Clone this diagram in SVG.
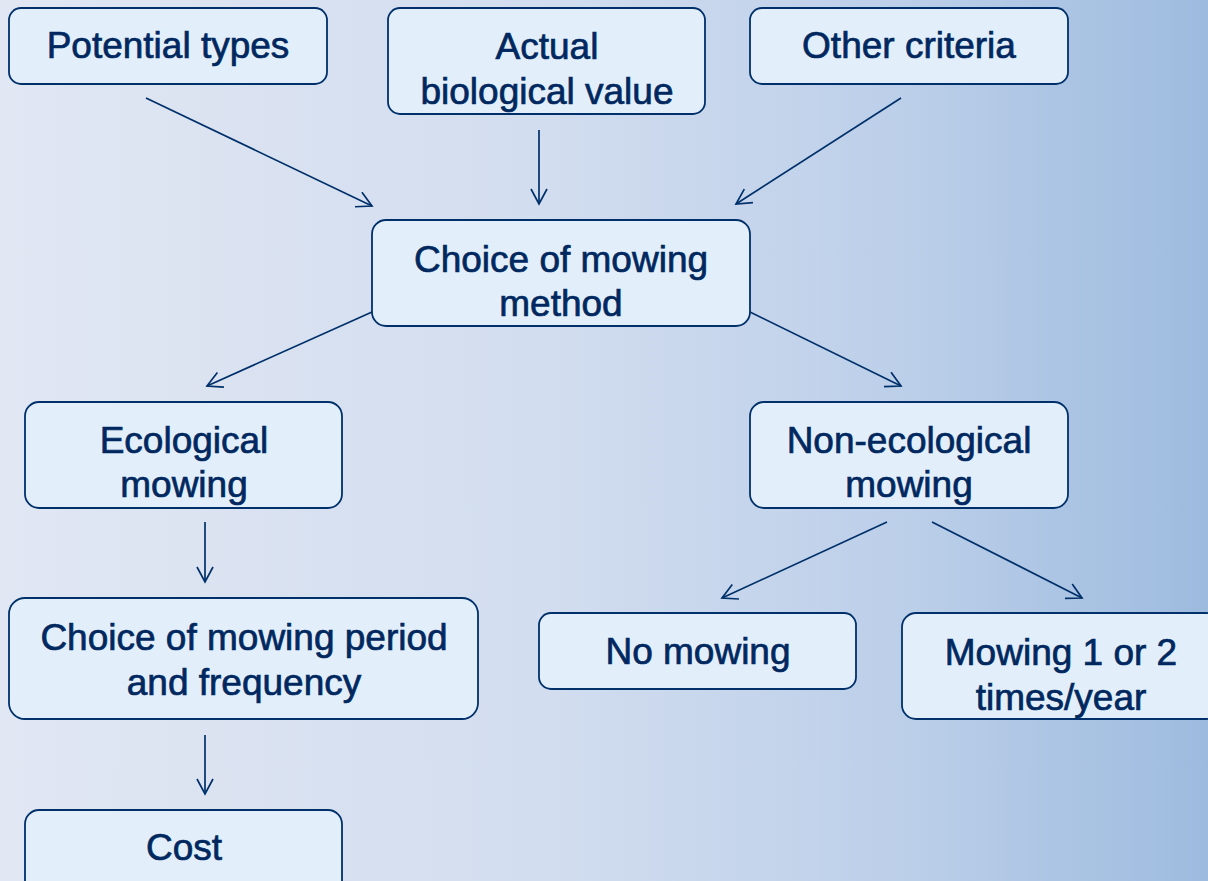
<svg xmlns="http://www.w3.org/2000/svg" width="1208" height="881" viewBox="0 0 1208 881">
<defs>
<linearGradient id="bg" x1="0" y1="0" x2="1" y2="0">
<stop offset="0" stop-color="#e1e7f3"/>
<stop offset="0.45" stop-color="#d2ddef"/>
<stop offset="0.75" stop-color="#bccfe9"/>
<stop offset="1" stop-color="#9dbbdf"/>
</linearGradient>
<marker id="arr" viewBox="0 0 20 20" refX="16" refY="10" markerWidth="20" markerHeight="20" markerUnits="userSpaceOnUse" orient="auto">
<path d="M1,2 L16,10 L1,18" fill="none" stroke="#00306a" stroke-width="1.7"/>
</marker>
<style>
.box{fill:#e2effb;stroke:#00306a;stroke-width:1.8}
.t{font-family:"Liberation Sans",Arial,sans-serif;font-size:37px;fill:#00285f;stroke:#00285f;stroke-width:0.7;text-anchor:middle}
.c{stroke:#00306a;stroke-width:1.7;fill:none;marker-end:url(#arr)}
</style>
</defs>
<rect x="0" y="0" width="1208" height="881" fill="url(#bg)"/>
<g id="connectors">
<line class="c" x1="146" y1="98" x2="372" y2="206"/>
<line class="c" x1="539" y1="130" x2="539" y2="204"/>
<line class="c" x1="901" y1="98" x2="736" y2="204"/>
<line class="c" x1="372" y1="312" x2="207" y2="386"/>
<line class="c" x1="750" y1="312" x2="901" y2="386"/>
<line class="c" x1="205" y1="522" x2="205" y2="582"/>
<line class="c" x1="887" y1="522" x2="722" y2="598"/>
<line class="c" x1="932" y1="522" x2="1082" y2="598"/>
<line class="c" x1="205" y1="735" x2="205" y2="794"/>
</g>
<g id="potential">
<rect class="box" x="9" y="8" width="318" height="76" rx="12"/>
<text class="t" x="168" y="58">Potential types</text>
</g>
<g id="actual">
<rect class="box" x="388" y="8" width="317" height="106" rx="12"/>
<text class="t" x="547" y="59">Actual</text>
<text class="t" x="547" y="104">biological value</text>
</g>
<g id="other">
<rect class="box" x="750" y="8" width="318" height="76" rx="12"/>
<text class="t" x="909" y="58">Other criteria</text>
</g>
<g id="choice">
<rect class="box" x="372" y="220" width="378" height="106" rx="14"/>
<text class="t" x="561" y="272">Choice of mowing</text>
<text class="t" x="561" y="316">method</text>
</g>
<g id="ecological">
<rect class="box" x="25" y="402" width="317" height="106" rx="14"/>
<text class="t" x="184" y="453">Ecological</text>
<text class="t" x="184" y="497">mowing</text>
</g>
<g id="nonecological">
<rect class="box" x="750" y="402" width="318" height="106" rx="14"/>
<text class="t" x="909" y="453">Non-ecological</text>
<text class="t" x="909" y="497">mowing</text>
</g>
<g id="period">
<rect class="box" x="9" y="598" width="469" height="121" rx="16"/>
<text class="t" x="244" y="650">Choice of mowing period</text>
<text class="t" x="244" y="695">and frequency</text>
</g>
<g id="nomowing">
<rect class="box" x="539" y="613" width="317" height="76" rx="12"/>
<text class="t" x="698" y="664">No mowing</text>
</g>
<g id="mowing12">
<rect class="box" x="902" y="613" width="318" height="106" rx="14"/>
<text class="t" x="1061" y="665">Mowing 1 or 2</text>
<text class="t" x="1061" y="710">times/year</text>
</g>
<g id="cost">
<rect class="box" x="25" y="810" width="317" height="90" rx="14"/>
<text class="t" x="184" y="860">Cost</text>
</g>
</svg>
